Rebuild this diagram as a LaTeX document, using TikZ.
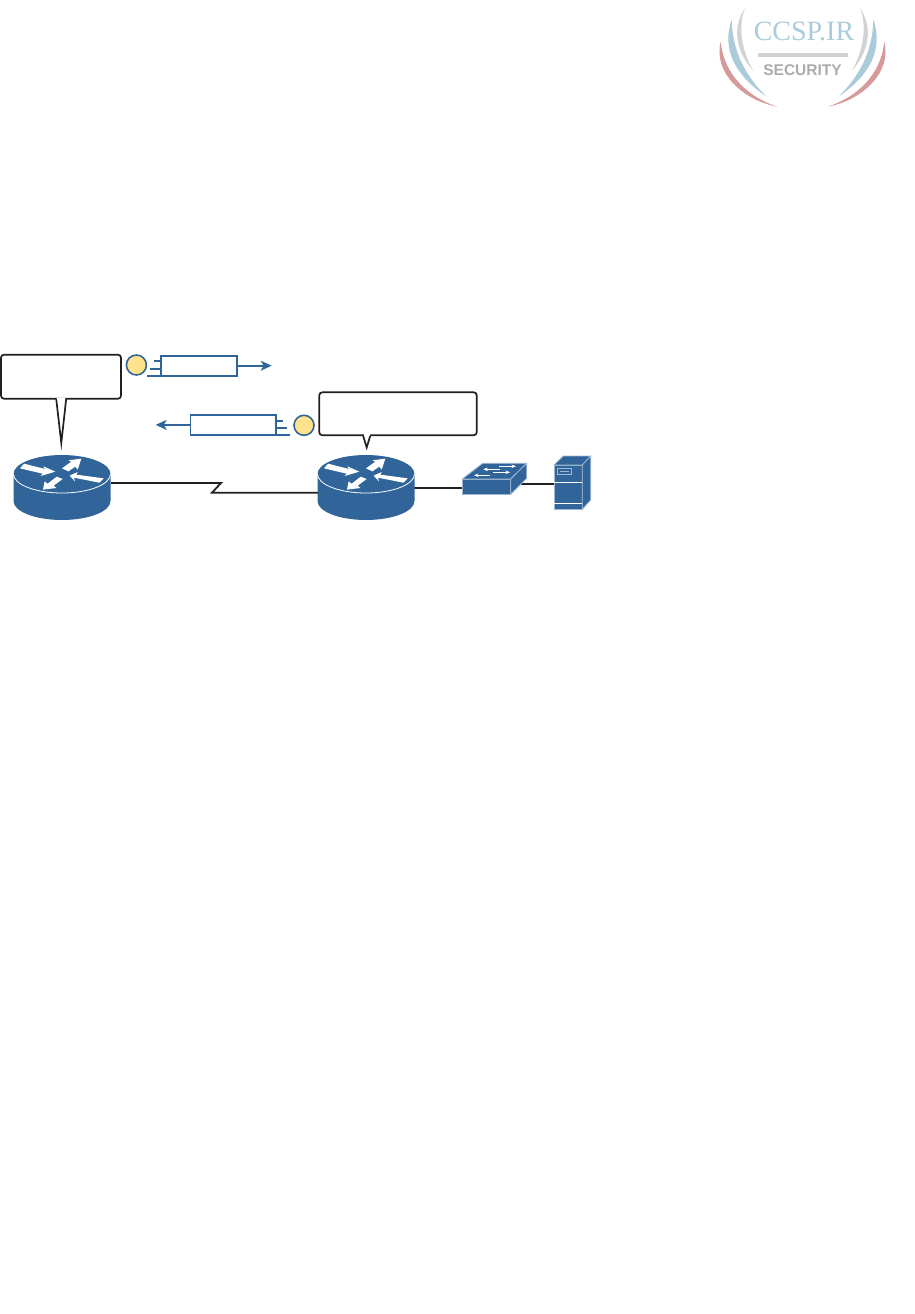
\documentclass[tikz,border=0pt]{standalone}
\usepackage{fontspec}
\setmainfont{Liberation Serif}
\newfontfamily\logosans{Liberation Sans}
\usetikzlibrary{arrows.meta}
\definecolor{ciscoblue}{HTML}{31659A}
\definecolor{edgelight}{HTML}{9DB8D3}
\definecolor{linkblack}{HTML}{231F20}
\definecolor{sunfill}{HTML}{FFE38C}
\definecolor{logoblue}{HTML}{A9CBDA}
\definecolor{logored}{HTML}{D79A9A}
\definecolor{logogrey}{HTML}{D2D2D2}
\definecolor{logotext}{HTML}{ABABAB}
\tikzset{
  calloutbox/.style={draw=linkblack,fill=white,line width=1.7pt,rounded corners=3pt,inner sep=0pt,outer sep=0pt},
  calltail/.style={draw=linkblack,fill=white,line width=1.7pt,line join=miter},
  pduframe/.style={draw=ciscoblue,fill=white,line width=1.7pt,inner sep=0pt,outer sep=0pt},
  pduarrow/.style={draw=ciscoblue,line width=1.7pt,-{Stealth[length=11pt,width=10pt,inset=3pt]}},
  pdutick/.style={draw=ciscoblue,line width=1.7pt},
  badge/.style={circle,draw=ciscoblue,fill=sunfill,line width=1.6pt,minimum size=20pt,inner sep=0pt,outer sep=0pt},
  wire/.style={draw=linkblack,line width=1.8pt,line join=miter},
  routericon/.pic={
    \fill[ciscoblue] (-48.5,0) -- (-48.5,27) arc[x radius=48.5pt,y radius=19pt,start angle=180,end angle=360] -- (48.5,0)
       arc[x radius=48.5pt,y radius=19pt,start angle=0,end angle=180] -- cycle;
    \draw[white,line width=.8pt] (-48.5,0) arc[x radius=48.5pt,y radius=19pt,start angle=180,end angle=360];
    \begin{scope}[scale=1/3,shift={(-186,-87)}]
      \fill[white] (60,70) -- (72,56) -- (135,72) -- (130,64) -- (166,80) -- (122,93) -- (128,86) -- cycle;
      \fill[white] (186,70) -- (214,50) -- (205,46) -- (244,41) -- (233,74) -- (226,65) -- (205,79) -- cycle;
      \fill[white] (209,92) -- (233,81) -- (229,89) -- (311,100) -- (298,113) -- (222,98) -- (225,109) -- cycle;
      \fill[white] (170,95) -- (188,102) -- (161,122) -- (169,129) -- (129,134) -- (134,109) -- (143,116) -- cycle;
    \end{scope}
  },
  swarrow/.style={draw=white,line width=.8pt,-{Stealth[length=4.5pt,width=3.5pt]}},
}
\newcommand{\crescents}{%
  \fill[logogrey] (745,8.3) .. controls (733,25) and (734,50) .. (753.3,70.7) .. controls (741,50) and (738,25) .. (745,8.3) -- cycle;
  \fill[logoblue] (731.7,19.3) .. controls (721,50) and (736,76) .. (766.7,96.7) .. controls (747,78) and (732,52) .. (731.7,19.3) -- cycle;
  \fill[logored] (720.7,41.7) .. controls (713,72) and (742,100) .. (777.3,106.7) .. controls (748,97) and (724,75) .. (720.7,41.7) -- cycle;
}
\begin{document}
\begin{tikzpicture}[x=1pt,y=-1pt]
\useasboundingbox (0,0) rectangle (915,1314);

% watermark
\crescents
\begin{scope}[xshift=1605pt,xscale=-1]
  \crescents
\end{scope}
\node[inner sep=0pt,text=logoblue,font=\fontsize{28}{28}\selectfont,anchor=base] (logoname) at (804,40.7) {CCSP.IR};
\node[inner sep=0pt,minimum width=90.6pt,minimum height=3.2pt,fill=logogrey] (logorule) at (803,55) {};
\node[inner sep=0pt,text=logotext,font=\logosans\bfseries\fontsize{15.5}{15.5}\selectfont,anchor=base] (logosec) at (802.5,76) {SECURITY};

% anchors
\coordinate (r1p) at (111,483);
\coordinate (r2pl) at (318,492.7);
\coordinate (r2pr) at (414,487.7);
\coordinate (zigA) at (221,483);
\coordinate (zigB) at (212,492.7);
\coordinate (swp) at (518,484);

% switch and server front faces
\node[fill=ciscoblue,draw=edgelight,line width=.8pt,inner sep=0pt,outer sep=0pt,minimum width=48.4pt,minimum height=15.3pt] (sw) at (486.5,486.7) {};
\node[fill=ciscoblue,draw=edgelight,line width=.8pt,inner sep=0pt,outer sep=0pt,minimum width=28.3pt,minimum height=44.3pt] (srv) at (568.2,487.2) {};

% connectors
\draw[wire] (r1p) -- (zigA) -- (zigB) -- (r2pl);
\draw[wire] (r2pr) -- (r2pr -| sw.west);
\draw[wire] (swp) -- (swp -| srv.west);

% routers
\pic at (62,474) {routericon};
\pic at (366,474) {routericon};

% switch body
\draw[fill=ciscoblue,draw=edgelight,line width=.8pt,line join=round] (462.3,479) -- (482.7,463.3) -- (526.7,463.3) -- (510.7,479) -- cycle;
\draw[fill=ciscoblue,draw=edgelight,line width=.8pt,line join=round] (510.7,479) -- (526.7,463.3) -- (526.7,478.3) -- (510.7,494.3) -- cycle;
\draw[swarrow] (499.3,466.3) -- (516,466.3);
\draw[swarrow] (500,469.3) -- (483.3,469.3);
\draw[swarrow] (493.3,472.3) -- (510,472.3);
\draw[swarrow] (490,475.3) -- (474,475.3);

% server body
\draw[fill=ciscoblue,draw=edgelight,line width=.8pt,line join=round] (554,465) -- (563.3,456) -- (590.7,456) -- (582.3,465) -- cycle;
\draw[fill=ciscoblue,draw=edgelight,line width=.8pt,line join=round] (582.3,465) -- (590.7,456) -- (590.7,500) -- (582.3,509.3) -- cycle;
\draw[white,line width=.9pt] (554,482.7) -- (582.3,482.7);
\draw[white,line width=.9pt] (554,503.3) -- (582.3,503.3);
\draw[edgelight,line width=.8pt] (557.3,468.3) rectangle (571.7,474.7);
\draw[edgelight,line width=.8pt] (560,471.5) -- (569,471.5);

% callouts
\node[calloutbox,minimum width=120pt,minimum height=44pt] (c1) at (61,376.7) {};
\coordinate (c1a) at (56.2,398.7);
\coordinate (c1b) at (66.2,398.7);
\coordinate (c1tip) at (61.3,443);
\path[calltail] (c1a) -- (c1tip) -- (c1b);
\fill[white] (c1a) ++(.9,-.9) rectangle ([shift={(-.9,.9)}]c1b);
\node[calloutbox,minimum width=157.4pt,minimum height=43pt] (c2) at (398,413.8) {};
\coordinate (c2a) at (363,435.3);
\coordinate (c2b) at (370.4,435.3);
\coordinate (c2tip) at (366.7,447.5);
\path[calltail] (c2a) -- (c2tip) -- (c2b);
\fill[white] (c2a) ++(.9,-.9) rectangle ([shift={(-.9,.9)}]c2b);

% frames
\node[badge] (b1) at (136.4,365) {};
\node[pduframe,minimum width=75.7pt,minimum height=20pt] (f1) at (198.9,365.7) {};
\coordinate (f1end) at (271.7,365.7);
\draw[pduarrow] (f1.east) -- (f1end);
\draw[pdutick] (f1.west |- 0,361.3) -- ++(-6.7,0);
\draw[pdutick] (f1.west |- 0,368.7) -- ++(-10.7,0);
\draw[pdutick] (f1.west |- 0,375.7) -- ++(-14.3,0);

\node[badge] (b2) at (304,425.3) {};
\node[pduframe,minimum width=85.7pt,minimum height=19.7pt] (f2) at (233.2,424.9) {};
\coordinate (f2end) at (155.7,424.9);
\draw[pduarrow] (f2.west) -- (f2end);
\draw[pdutick] (f2.east |- 0,420.7) -- ++(7,0);
\draw[pdutick] (f2.east |- 0,427.7) -- ++(10.7,0);
\draw[pdutick] (f2.east |- 0,434.7) -- ++(14,0);
\end{tikzpicture}
\end{document}
